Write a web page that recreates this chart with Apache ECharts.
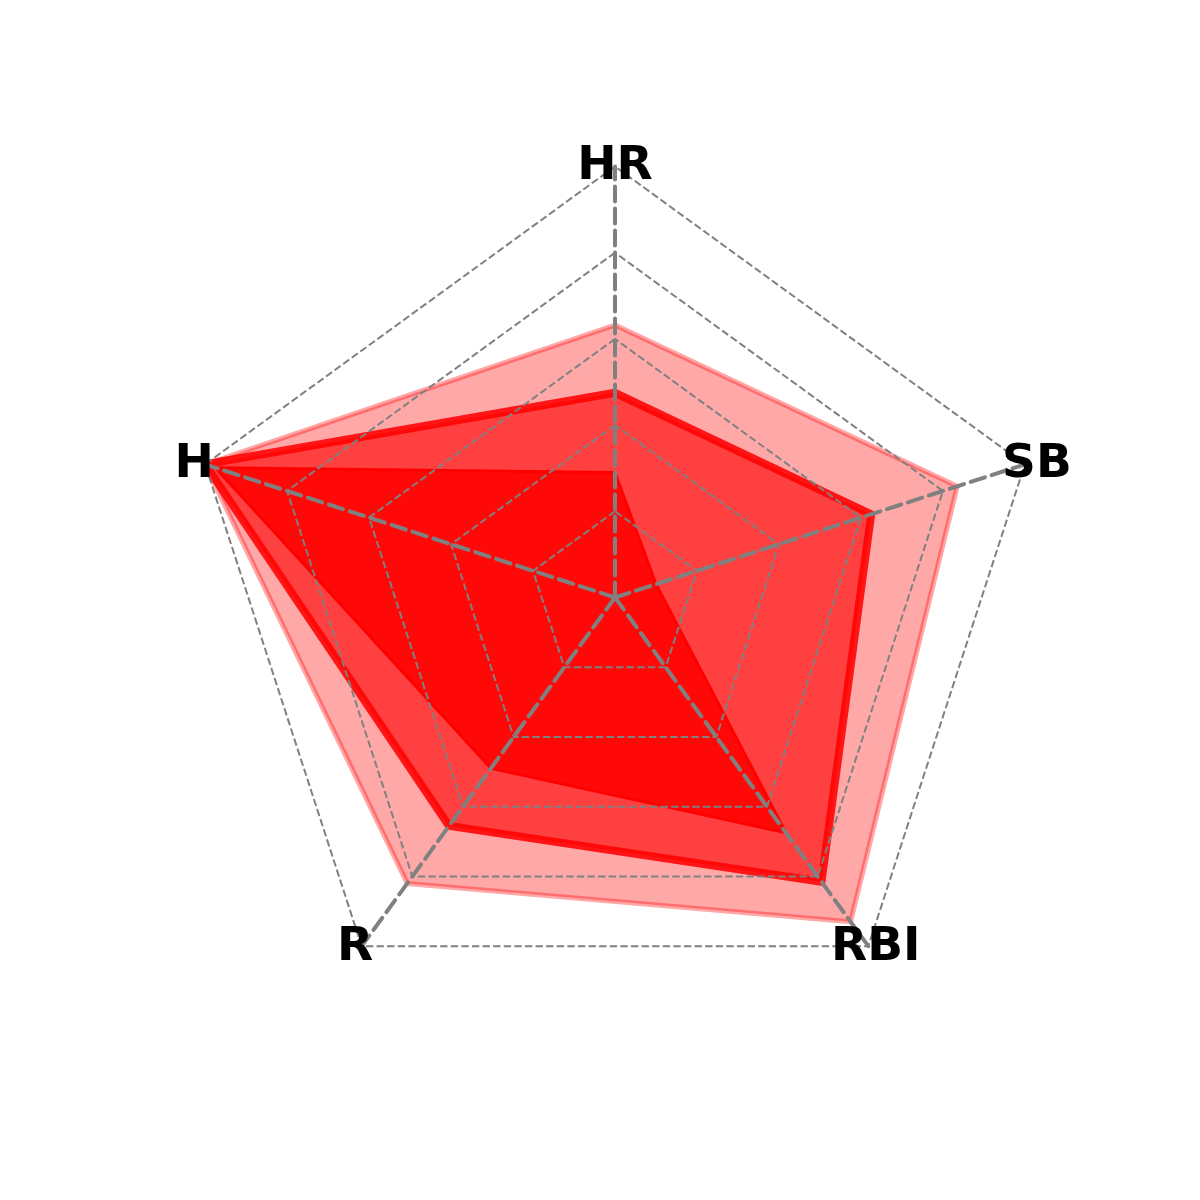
<!DOCTYPE html>
<html>
<head>
<meta charset="utf-8">
<script src="https://cdn.jsdelivr.net/npm/echarts@6/dist/echarts.min.js"></script>
<style>
  html, body { margin: 0; padding: 0; background: #fff; }
  #chart { width: 1200px; height: 1200px; }
</style>
</head>
<body>
<div id="chart"></div>
<script>
// axes, counter-clockwise from the top
let indicators = ['HR', 'H', 'R', 'RBI', 'SB'];
let axisMax = 1;

// three overlapping profiles (scaled 0..1)
let outerValues  = [0.632, 1.0, 0.82, 0.93, 0.835];
let middleValues = [0.475, 1.0, 0.655, 0.815, 0.625];
let innerValues  = [0.29, 0.975, 0.49, 0.675, 0.10];

let chartDom = document.getElementById('chart');
let myChart = echarts.init(chartDom, null, { renderer: 'canvas' });

// nudge each label a little off its vertex
let nameKey = { HR: 'top', H: 'left', R: 'bl', RBI: 'br', SB: 'right' };

var option = {
  animation: false,
  radar: {
    z: 5,
    center: [615, 597.5],
    radius: 431,
    startAngle: 90,
    shape: 'polygon',
    splitNumber: 5,
    indicator: indicators.map(function (n) { return { name: n, max: axisMax, min: 0 }; }),
    axisNameGap: 0,
    axisName: {
      color: '#000',
      fontFamily: 'DejaVu Sans',
      fontWeight: 'bold',
      fontSize: 47,
      align: 'center',
      verticalAlign: 'middle',
      formatter: function (name) { return '{' + nameKey[name] + '|' + name + '}'; },
      rich: {
        top:   { fontFamily: 'DejaVu Sans', fontWeight: 'bold', fontSize: 47, color: '#000', padding: [0, 0, 0, 0] },
        left:  { fontFamily: 'DejaVu Sans', fontWeight: 'bold', fontSize: 47, color: '#000', padding: [0, 22, 0, 0] },
        right: { fontFamily: 'DejaVu Sans', fontWeight: 'bold', fontSize: 47, color: '#000', padding: [0, 0, 0, 24] },
        bl:    { fontFamily: 'DejaVu Sans', fontWeight: 'bold', fontSize: 47, color: '#000', padding: [4, 13, 0, 0] },
        br:    { fontFamily: 'DejaVu Sans', fontWeight: 'bold', fontSize: 47, color: '#000', padding: [4, 0, 0, 15] }
      }
    },
    splitArea: { show: false },
    splitLine: {
      lineStyle: { color: '#808080', width: 2, type: [7.4, 3.2] }
    },
    axisLine: {
      lineStyle: { color: '#808080', width: 4, type: [15, 7] }
    }
  },
  series: [{
    type: 'radar',
    z: 2,
    symbol: 'none',
    data: [
      {
        value: outerValues,
        lineStyle: { color: 'rgba(255,0,0,0.35)', width: 5 },
        areaStyle: { color: 'rgba(255,0,0,0.34)', opacity: 1 }
      },
      {
        value: middleValues,
        lineStyle: { color: 'rgba(255,0,0,0.88)', width: 8 },
        areaStyle: { color: 'rgba(255,0,0,0.62)', opacity: 1 }
      },
      {
        value: innerValues,
        lineStyle: { color: 'rgba(255,0,0,1)', width: 3 },
        areaStyle: { color: 'rgba(255,0,0,0.875)', opacity: 1 }
      }
    ]
  }]
};

myChart.setOption(option);
</script>
</body>
</html>
